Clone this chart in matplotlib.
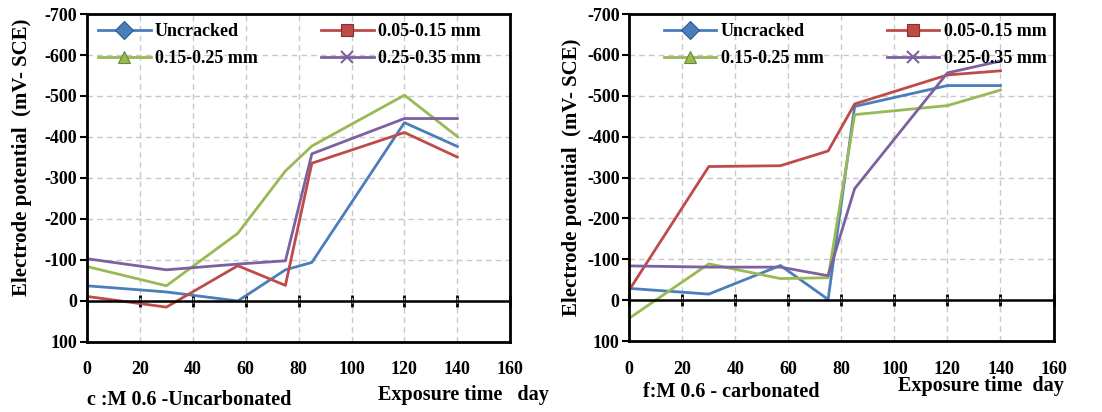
import matplotlib.pyplot as plt
from matplotlib.lines import Line2D

plt.rcParams['font.family'] = ['Liberation Serif', 'DejaVu Serif']
plt.rcParams['font.weight'] = 'bold'
plt.rcParams['axes.unicode_minus'] = False

# exposure time (day)
days = [0, 30, 57, 75, 85, 120, 140]

# c: M 0.6 uncarbonated (mV vs SCE)
unc_uncracked = [-37, -22, 0, -76, -94, -435, -377]
unc_005_015 = [-11, 15, -86, -38, -336, -411, -351]
unc_015_025 = [-84, -37, -165, -317, -378, -502, -401]
unc_025_035 = [-103, -76, -90, -98, -359, -445, -445]

# f: M 0.6 carbonated (mV vs SCE)
car_uncracked = [-29, -15, -85, -2, -474, -525, -525]
car_005_015 = [-25, -327, -329, -365, -480, -551, -561]
car_015_025 = [44, -89, -53, -55, -454, -476, -514]
car_025_035 = [-84, -81, -81, -60, -273, -556, -585]

labels = ['Uncracked', '0.05-0.15 mm', '0.15-0.25 mm', '0.25-0.35 mm']
colors = ['#4A7EBB', '#BE4B48', '#98B954', '#7D60A0']
edge = ['#2C5A8F', '#8C2D2A', '#6B8A35', '#7D60A0']
markers = ['D', 's', '^', 'x']

xticks = [0, 20, 40, 60, 80, 100, 120, 140, 160]
yticks = [-700, -600, -500, -400, -300, -200, -100, 0, 100]

fig = plt.figure(figsize=(11.02, 4.12), dpi=100)
ax1 = fig.add_axes([0.079, 0.170, 0.384, 0.796])
ax2 = fig.add_axes([0.571, 0.172, 0.385, 0.794])


def draw(ax, series, leg_x, ylab_xy, caption, cap_xy, xl_xy):
    for vals, c in zip(series, colors):
        ax.plot(days, vals, color=c, lw=2)
    ax.set_xlim(0, 160)
    ax.set_ylim(100, -700)
    ax.set_xticks(xticks)
    ax.set_yticks(yticks)
    ax.grid(True, color='#c8c8c8', ls=(0, (4, 3)), lw=1)
    ax.axhline(0, color='black', lw=1.8)
    for s in ax.spines.values():
        s.set_linewidth(2)
    ax.tick_params(axis='x', length=0, pad=14, labelsize=13)
    ax.tick_params(axis='y', direction='out', length=5, width=1.5, labelsize=13, pad=2)
    # tick marks crossing the zero line
    sec = ax.secondary_xaxis(0.125)
    sec.set_xticks(xticks)
    sec.tick_params(direction='inout', length=9, width=2, labelbottom=False)
    sec.spines['bottom'].set_visible(False)
    ax.set_ylabel('Electrode potential  (mV- SCE)', fontsize=15, fontweight='bold')
    ax.yaxis.set_label_coords(*ylab_xy)
    handles = [Line2D([], [], color=c, lw=2, marker=m, markersize=9,
                      markerfacecolor=c, markeredgecolor=e, markeredgewidth=1.5 if m == 'x' else 0.8)
               for c, e, m in zip(colors, edge, markers)]
    order = [0, 2, 1, 3]
    ax.legend([handles[i] for i in order], [labels[i] for i in order], ncol=2,
              loc='upper left', bbox_to_anchor=(leg_x, 1.0),
              frameon=False, fontsize=13, handlelength=2.9, handletextpad=0.25,
              columnspacing=3.5, labelspacing=0.55, borderaxespad=0.1)
    fig.text(cap_xy[0], cap_xy[1], caption, fontsize=14.5, fontweight='bold', ha='left', va='center')
    fig.text(xl_xy[0], xl_xy[1], xl_xy[2], fontsize=14.5, fontweight='bold', ha='right', va='center')


draw(ax1, [unc_uncracked, unc_005_015, unc_015_025, unc_025_035], 0.005, (-0.13, 0.564),
     'c :M 0.6 -Uncarbonated', (87 / 1102, 1 - 400 / 412),
     (549 / 1102, 1 - 395 / 412, 'Exposure time   day'))
draw(ax2, [car_uncracked, car_005_015, car_015_025, car_025_035], 0.06, (-0.112, 0.5),
     'f:M 0.6 - carbonated', (643 / 1102, 1 - 392 / 412),
     (1064 / 1102, 1 - 386 / 412, 'Exposure time  day'))

fig.savefig('out.png', dpi=100)
